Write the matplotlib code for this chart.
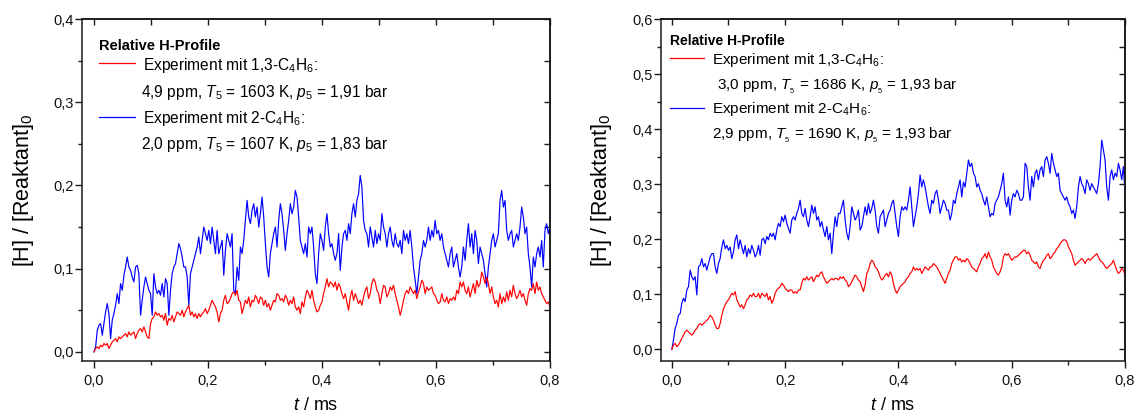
import numpy as np
import matplotlib
matplotlib.use("Agg")
import matplotlib.pyplot as plt
from matplotlib.ticker import MultipleLocator, FuncFormatter, NullLocator

plt.rcParams['font.family'] = ['Liberation Sans', 'DejaVu Sans']
plt.rcParams['mathtext.fontset'] = 'custom'
plt.rcParams['mathtext.rm'] = 'Liberation Sans'
plt.rcParams['mathtext.it'] = 'Liberation Sans:italic'
plt.rcParams['mathtext.bf'] = 'Liberation Sans:bold'

# left panel: [H]/[Reaktant]0, sampled evenly over 0 ... 0.8 ms
left_13 = [
    0.000, 0.004, 0.006, 0.004, 0.008, 0.006, 0.010, 0.008, 0.010, 0.004,
    0.008, 0.012, 0.014, 0.016, 0.012, 0.018, 0.016, 0.018, 0.020, 0.022,
    0.018, 0.024, 0.020, 0.022, 0.024, 0.016, 0.022, 0.026, 0.028, 0.024,
    0.030, 0.024, 0.018, 0.016, 0.034, 0.040, 0.042, 0.048, 0.044, 0.046,
    0.042, 0.044, 0.038, 0.046, 0.032, 0.040, 0.038, 0.044, 0.036, 0.042,
    0.048, 0.046, 0.044, 0.050, 0.042, 0.048, 0.052, 0.056, 0.044, 0.048,
    0.042, 0.046, 0.040, 0.046, 0.042, 0.046, 0.048, 0.052, 0.046, 0.050,
    0.056, 0.062, 0.058, 0.054, 0.048, 0.036, 0.046, 0.050, 0.062, 0.068,
    0.058, 0.060, 0.064, 0.070, 0.072, 0.068, 0.074, 0.062, 0.060, 0.046,
    0.054, 0.062, 0.058, 0.066, 0.054, 0.062, 0.060, 0.068, 0.064, 0.058,
    0.066, 0.064, 0.056, 0.062, 0.054, 0.058, 0.050, 0.056, 0.062, 0.060,
    0.070, 0.068, 0.062, 0.064, 0.060, 0.068, 0.064, 0.056, 0.062, 0.058,
    0.066, 0.054, 0.050, 0.054, 0.046, 0.060, 0.054, 0.066, 0.074, 0.070,
    0.064, 0.074, 0.062, 0.054, 0.048, 0.050, 0.056, 0.060, 0.070, 0.078,
    0.088, 0.078, 0.084, 0.082, 0.078, 0.084, 0.074, 0.082, 0.078, 0.070,
    0.064, 0.070, 0.060, 0.050, 0.066, 0.074, 0.062, 0.070, 0.064, 0.058,
    0.062, 0.056, 0.066, 0.074, 0.078, 0.064, 0.070, 0.082, 0.088, 0.084,
    0.074, 0.070, 0.058, 0.070, 0.080, 0.078, 0.066, 0.070, 0.078, 0.074,
    0.080, 0.070, 0.062, 0.054, 0.044, 0.052, 0.062, 0.070, 0.074, 0.070,
    0.078, 0.074, 0.070, 0.074, 0.064, 0.072, 0.078, 0.086, 0.082, 0.070,
    0.078, 0.074, 0.076, 0.078, 0.070, 0.068, 0.062, 0.058, 0.060, 0.070,
    0.062, 0.060, 0.066, 0.058, 0.064, 0.062, 0.066, 0.062, 0.074, 0.070,
    0.084, 0.078, 0.084, 0.074, 0.070, 0.078, 0.066, 0.074, 0.082, 0.070,
    0.086, 0.078, 0.082, 0.096, 0.090, 0.082, 0.090, 0.082, 0.070, 0.078,
    0.066, 0.058, 0.062, 0.054, 0.070, 0.058, 0.066, 0.060, 0.072, 0.062,
    0.074, 0.066, 0.080, 0.070, 0.064, 0.068, 0.074, 0.066, 0.070, 0.062,
    0.056, 0.070, 0.076, 0.074, 0.082, 0.070, 0.084, 0.074, 0.078, 0.070,
    0.066, 0.062, 0.058, 0.060, 0.054]

left_2 = [
    0.000, 0.006, 0.026, 0.032, 0.034, 0.020, 0.034, 0.048, 0.058, 0.046,
    0.016, 0.038, 0.046, 0.056, 0.070, 0.058, 0.082, 0.074, 0.092, 0.102,
    0.114, 0.102, 0.098, 0.090, 0.084, 0.102, 0.104, 0.094, 0.044, 0.062,
    0.078, 0.090, 0.082, 0.074, 0.070, 0.044, 0.094, 0.078, 0.070, 0.074,
    0.068, 0.082, 0.066, 0.088, 0.082, 0.044, 0.074, 0.094, 0.102, 0.106,
    0.118, 0.130, 0.124, 0.114, 0.102, 0.102, 0.090, 0.056, 0.094, 0.102,
    0.110, 0.118, 0.126, 0.138, 0.118, 0.134, 0.150, 0.142, 0.134, 0.146,
    0.130, 0.150, 0.134, 0.118, 0.146, 0.118, 0.126, 0.134, 0.092, 0.122,
    0.142, 0.134, 0.126, 0.142, 0.074, 0.070, 0.102, 0.086, 0.126, 0.118,
    0.134, 0.158, 0.182, 0.162, 0.154, 0.170, 0.178, 0.162, 0.174, 0.150,
    0.166, 0.186, 0.162, 0.130, 0.102, 0.090, 0.118, 0.130, 0.142, 0.150,
    0.126, 0.158, 0.178, 0.166, 0.146, 0.122, 0.142, 0.158, 0.178, 0.166,
    0.174, 0.194, 0.186, 0.162, 0.134, 0.126, 0.118, 0.130, 0.114, 0.150,
    0.142, 0.150, 0.126, 0.094, 0.082, 0.118, 0.142, 0.134, 0.122, 0.150,
    0.166, 0.142, 0.126, 0.130, 0.118, 0.110, 0.118, 0.142, 0.098, 0.126,
    0.142, 0.146, 0.134, 0.154, 0.142, 0.166, 0.178, 0.162, 0.182, 0.190,
    0.212, 0.198, 0.158, 0.146, 0.142, 0.126, 0.150, 0.138, 0.126, 0.146,
    0.130, 0.142, 0.134, 0.166, 0.150, 0.142, 0.126, 0.142, 0.150, 0.134,
    0.126, 0.142, 0.130, 0.126, 0.134, 0.118, 0.146, 0.134, 0.142, 0.130,
    0.146, 0.126, 0.102, 0.086, 0.070, 0.090, 0.110, 0.118, 0.134, 0.126,
    0.134, 0.150, 0.134, 0.146, 0.138, 0.158, 0.142, 0.146, 0.134, 0.142,
    0.126, 0.118, 0.110, 0.102, 0.118, 0.126, 0.102, 0.110, 0.118, 0.102,
    0.090, 0.102, 0.126, 0.110, 0.134, 0.154, 0.126, 0.142, 0.118, 0.146,
    0.134, 0.106, 0.126, 0.118, 0.110, 0.094, 0.078, 0.102, 0.118, 0.134,
    0.142, 0.126, 0.134, 0.142, 0.182, 0.194, 0.174, 0.182, 0.146, 0.134,
    0.142, 0.146, 0.126, 0.134, 0.142, 0.134, 0.150, 0.174, 0.162, 0.142,
    0.150, 0.118, 0.102, 0.078, 0.114, 0.102, 0.118, 0.126, 0.114, 0.134,
    0.102, 0.146, 0.154, 0.142, 0.150]

# right panel
right_13 = [
    0.000, 0.008, 0.011, 0.005, 0.008, 0.014, 0.020, 0.026, 0.032, 0.035,
    0.032, 0.029, 0.026, 0.029, 0.035, 0.038, 0.044, 0.047, 0.044, 0.047,
    0.050, 0.053, 0.056, 0.062, 0.059, 0.053, 0.044, 0.038, 0.038, 0.047,
    0.062, 0.074, 0.081, 0.087, 0.090, 0.096, 0.102, 0.099, 0.105, 0.090,
    0.084, 0.077, 0.081, 0.074, 0.081, 0.090, 0.093, 0.099, 0.096, 0.102,
    0.096, 0.096, 0.102, 0.093, 0.102, 0.099, 0.096, 0.102, 0.090, 0.096,
    0.084, 0.090, 0.102, 0.108, 0.111, 0.114, 0.120, 0.117, 0.111, 0.108,
    0.105, 0.108, 0.108, 0.102, 0.105, 0.102, 0.108, 0.108, 0.120, 0.129,
    0.126, 0.132, 0.126, 0.129, 0.132, 0.123, 0.129, 0.135, 0.132, 0.138,
    0.141, 0.132, 0.126, 0.120, 0.123, 0.126, 0.129, 0.126, 0.129, 0.129,
    0.126, 0.132, 0.129, 0.132, 0.126, 0.123, 0.114, 0.117, 0.123, 0.129,
    0.135, 0.132, 0.126, 0.123, 0.114, 0.105, 0.117, 0.138, 0.144, 0.156,
    0.162, 0.159, 0.150, 0.147, 0.141, 0.132, 0.126, 0.129, 0.135, 0.138,
    0.132, 0.141, 0.135, 0.120, 0.108, 0.102, 0.108, 0.114, 0.117, 0.120,
    0.123, 0.129, 0.132, 0.138, 0.141, 0.150, 0.144, 0.147, 0.144, 0.147,
    0.138, 0.144, 0.150, 0.147, 0.144, 0.150, 0.150, 0.156, 0.153, 0.150,
    0.144, 0.138, 0.132, 0.126, 0.120, 0.129, 0.138, 0.144, 0.156, 0.162,
    0.168, 0.168, 0.162, 0.165, 0.159, 0.162, 0.159, 0.165, 0.162, 0.156,
    0.150, 0.147, 0.144, 0.141, 0.150, 0.156, 0.165, 0.168, 0.174, 0.165,
    0.177, 0.168, 0.162, 0.150, 0.144, 0.138, 0.135, 0.141, 0.150, 0.168,
    0.174, 0.171, 0.174, 0.168, 0.162, 0.165, 0.168, 0.168, 0.171, 0.174,
    0.177, 0.180, 0.180, 0.174, 0.177, 0.171, 0.162, 0.159, 0.156, 0.159,
    0.150, 0.147, 0.156, 0.162, 0.165, 0.171, 0.174, 0.165, 0.168, 0.174,
    0.177, 0.183, 0.186, 0.192, 0.196, 0.199, 0.199, 0.196, 0.186, 0.180,
    0.174, 0.162, 0.153, 0.156, 0.159, 0.162, 0.165, 0.162, 0.156, 0.162,
    0.165, 0.162, 0.165, 0.168, 0.171, 0.174, 0.168, 0.162, 0.159, 0.156,
    0.150, 0.147, 0.150, 0.153, 0.156, 0.162, 0.153, 0.144, 0.138, 0.141,
    0.147, 0.144, 0.135]

right_2 = [
    0.000, 0.017, 0.038, 0.047, 0.062, 0.065, 0.084, 0.093, 0.087, 0.108,
    0.114, 0.144, 0.132, 0.126, 0.132, 0.099, 0.150, 0.153, 0.165, 0.150,
    0.156, 0.144, 0.156, 0.168, 0.174, 0.174, 0.150, 0.138, 0.156, 0.165,
    0.186, 0.199, 0.183, 0.189, 0.180, 0.186, 0.165, 0.177, 0.199, 0.208,
    0.183, 0.199, 0.186, 0.174, 0.189, 0.168, 0.183, 0.174, 0.189, 0.180,
    0.168, 0.174, 0.189, 0.171, 0.199, 0.202, 0.192, 0.205, 0.199, 0.211,
    0.205, 0.211, 0.199, 0.217, 0.229, 0.223, 0.241, 0.232, 0.244, 0.229,
    0.220, 0.211, 0.235, 0.241, 0.235, 0.247, 0.256, 0.271, 0.247, 0.241,
    0.256, 0.235, 0.223, 0.241, 0.262, 0.247, 0.259, 0.235, 0.241, 0.223,
    0.232, 0.217, 0.205, 0.223, 0.199, 0.211, 0.174, 0.211, 0.241, 0.223,
    0.247, 0.247, 0.259, 0.271, 0.235, 0.211, 0.199, 0.223, 0.259, 0.247,
    0.235, 0.241, 0.253, 0.217, 0.223, 0.241, 0.259, 0.244, 0.265, 0.247,
    0.256, 0.271, 0.253, 0.223, 0.211, 0.241, 0.247, 0.253, 0.223, 0.235,
    0.247, 0.253, 0.265, 0.271, 0.247, 0.223, 0.205, 0.241, 0.259, 0.253,
    0.259, 0.253, 0.271, 0.295, 0.259, 0.223, 0.241, 0.259, 0.283, 0.317,
    0.295, 0.308, 0.295, 0.277, 0.259, 0.247, 0.271, 0.265, 0.283, 0.289,
    0.271, 0.247, 0.259, 0.271, 0.265, 0.253, 0.253, 0.235, 0.247, 0.271,
    0.265, 0.283, 0.295, 0.308, 0.277, 0.304, 0.295, 0.320, 0.344, 0.332,
    0.338, 0.320, 0.314, 0.295, 0.301, 0.289, 0.283, 0.271, 0.262, 0.277,
    0.259, 0.241, 0.247, 0.244, 0.265, 0.271, 0.277, 0.289, 0.301, 0.320,
    0.271, 0.259, 0.277, 0.244, 0.271, 0.283, 0.277, 0.289, 0.283, 0.271,
    0.271, 0.277, 0.338, 0.332, 0.295, 0.271, 0.314, 0.295, 0.320, 0.326,
    0.308, 0.326, 0.332, 0.314, 0.344, 0.350, 0.338, 0.320, 0.356, 0.338,
    0.326, 0.314, 0.320, 0.289, 0.283, 0.277, 0.271, 0.277, 0.265, 0.259,
    0.247, 0.253, 0.238, 0.259, 0.295, 0.314, 0.301, 0.295, 0.283, 0.308,
    0.301, 0.289, 0.301, 0.295, 0.289, 0.283, 0.301, 0.332, 0.380, 0.362,
    0.344, 0.295, 0.271, 0.314, 0.326, 0.308, 0.320, 0.314, 0.338, 0.326,
    0.308, 0.332, 0.283]

t_left = np.linspace(0, 0.8, len(left_2))
t_right = np.linspace(0, 0.8, len(right_2))

RED = '#ff0000'
BLUE = '#0000ff'
EDGE = '#1a1a1a'


def comma(v, pos):
    return f"{v:.1f}".replace('.', ',')


def style(ax, xmin, ymin, ymax):
    ax.set_xlim(xmin, 0.8)
    ax.set_ylim(ymin, ymax)
    ax.xaxis.set_major_locator(MultipleLocator(0.2))
    ax.xaxis.set_minor_locator(MultipleLocator(0.1))
    ax.yaxis.set_major_locator(MultipleLocator(0.1))
    ax.yaxis.set_minor_locator(MultipleLocator(0.05))
    ax.xaxis.set_major_formatter(FuncFormatter(comma))
    ax.yaxis.set_major_formatter(FuncFormatter(comma))
    ax.tick_params(which='both', direction='out', width=1.0, color=EDGE,
                   labelsize=10.5, labelcolor='#111111')
    ax.tick_params(which='major', length=5.0)
    ax.tick_params(which='minor', length=3.2)
    ax.tick_params(axis='x', which='major', pad=4.3)
    ax.tick_params(axis='y', which='major', pad=1.0)
    for s in ax.spines.values():
        s.set_linewidth(1.1)
        s.set_color(EDGE)

    # inward ticks on top and right
    top = ax.secondary_xaxis('top')
    top.set_xticks(np.arange(0, 0.81, 0.1))
    top.xaxis.set_minor_locator(NullLocator())
    top.tick_params(direction='in', length=4.3, width=1.0, color=EDGE,
                    labeltop=False)
    top.spines['top'].set_linewidth(1.1)
    right = ax.secondary_yaxis('right')
    right.set_yticks(np.arange(0, ymax + 0.001, 0.05))
    right.yaxis.set_minor_locator(NullLocator())
    right.tick_params(direction='in', length=4.3, width=1.0, color=EDGE,
                      labelright=False)
    right.spines['right'].set_linewidth(1.1)

    ax.set_xlabel('$t$ / ms', fontsize=13)
    ax.set_ylabel('[H] / [Reaktant]$_0$', fontsize=15.5)
    ax.xaxis.set_label_coords(0.5, -0.105)


fig = plt.figure(figsize=(11.37, 4.16), dpi=100)
ax1 = fig.add_axes([0.0721, 0.1322, 0.4116, 0.8221])
ax2 = fig.add_axes([0.5814, 0.1322, 0.4081, 0.8221])

# left panel
ax1.plot(t_left, left_2, color=BLUE, lw=0.85)
ax1.plot(t_left, left_13, color=RED, lw=0.85)
style(ax1, -0.021, -0.011, 0.4)
ax1.yaxis.set_label_coords(-0.098, 0.5)

fs = 11.2
ax1.text(0.036, 0.909, 'Relative H-Profile', transform=ax1.transAxes,
         fontsize=10.5, fontweight='bold')
ax1.plot([0.036, 0.113], [0.871, 0.871], transform=ax1.transAxes, color=RED, lw=0.9)
ax1.text(0.130, 0.851, 'Experiment mit 1,3-C$_4$H$_6$:', transform=ax1.transAxes, fontsize=fs)
ax1.text(0.126, 0.773, '4,9 ppm, $T_5$ = 1603 K, $p_5$ = 1,91 bar',
         transform=ax1.transAxes, fontsize=fs)
ax1.plot([0.036, 0.113], [0.713, 0.713], transform=ax1.transAxes, color=BLUE, lw=0.9)
ax1.text(0.130, 0.695, 'Experiment mit 2-C$_4$H$_6$:', transform=ax1.transAxes, fontsize=fs)
ax1.text(0.126, 0.619, '2,0 ppm, $T_5$ = 1607 K, $p_5$ = 1,83 bar',
         transform=ax1.transAxes, fontsize=fs)

# right panel
ax2.plot(t_right, right_2, color=BLUE, lw=0.85)
ax2.plot(t_right, right_13, color=RED, lw=0.85)
style(ax2, -0.019, -0.021, 0.6)
ax2.yaxis.set_label_coords(-0.101, 0.5)

fs = 11
ax2.text(0.019, 0.924, 'Relative H-Profile', transform=ax2.transAxes,
         fontsize=10, fontweight='bold')
ax2.plot([0.019, 0.093], [0.886, 0.886], transform=ax2.transAxes, color=RED, lw=0.9)
ax2.text(0.110, 0.868, 'Experiment mit 1,3-C$_4$H$_6$:', transform=ax2.transAxes, fontsize=fs)
ax2.text(0.121, 0.794, '3,0 ppm, $T_{{}_5}$ = 1686 K, $p_{{}_5}$ = 1,93 bar',
         transform=ax2.transAxes, fontsize=fs)
ax2.plot([0.019, 0.093], [0.740, 0.740], transform=ax2.transAxes, color=BLUE, lw=0.9)
ax2.text(0.110, 0.725, 'Experiment mit 2-C$_4$H$_6$:', transform=ax2.transAxes, fontsize=fs)
ax2.text(0.110, 0.648, '2,9 ppm, $T_{{}_5}$ = 1690 K, $p_{{}_5}$ = 1,93 bar',
         transform=ax2.transAxes, fontsize=fs)

plt.savefig('out.png', dpi=100)
